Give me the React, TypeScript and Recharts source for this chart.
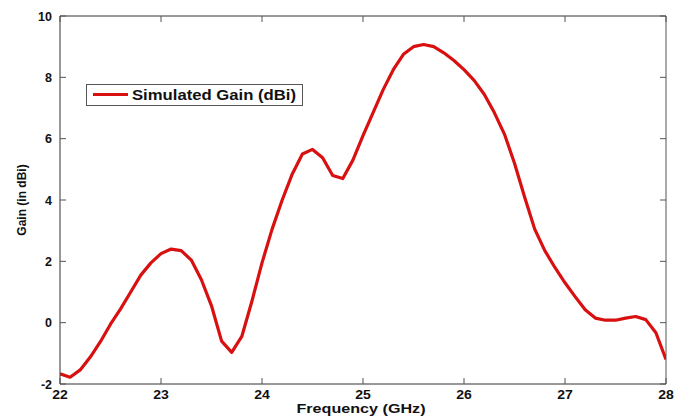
import React from 'react';
import { LineChart, Line, XAxis, YAxis, Legend } from 'recharts';

const freqGHz = [
  22.0, 22.1, 22.2, 22.3, 22.4, 22.5, 22.6, 22.7, 22.8, 22.9,
  23.0, 23.1, 23.2, 23.3, 23.4, 23.5, 23.6, 23.7, 23.8, 23.9,
  24.0, 24.1, 24.2, 24.3, 24.4, 24.5, 24.6, 24.7, 24.8, 24.9,
  25.0, 25.1, 25.2, 25.3, 25.4, 25.5, 25.6, 25.7, 25.8, 25.9,
  26.0, 26.1, 26.2, 26.3, 26.4, 26.5, 26.6, 26.7, 26.8, 26.9,
  27.0, 27.1, 27.2, 27.3, 27.4, 27.5, 27.6, 27.7, 27.8, 27.9, 28.0,
];

const gainDBi = [
  -1.67, -1.78, -1.54, -1.12, -0.62, -0.05, 0.45, 1.0, 1.55, 1.95,
  2.25, 2.4, 2.35, 2.04, 1.4, 0.55, -0.6, -0.97, -0.45, 0.7,
  1.95, 3.05, 4.0, 4.85, 5.5, 5.65, 5.38, 4.8, 4.7, 5.3,
  6.1, 6.85, 7.6, 8.25, 8.75, 9.0, 9.07, 9.0, 8.8, 8.55,
  8.25, 7.9, 7.45, 6.85, 6.15, 5.2, 4.1, 3.05, 2.35, 1.8,
  1.3, 0.85, 0.42, 0.15, 0.08, 0.08, 0.15, 0.2, 0.1, -0.33, -1.2,
];

const xTicks = [22, 23, 24, 25, 26, 27, 28];
const yTicks = [-2, 0, 2, 4, 6, 8, 10];

const seriesName = 'Simulated Gain (dBi)';
const xTitle = 'Frequency (GHz)';
const yTitle = 'Gain (in dBi)';

const data = freqGHz.map((f, i) => ({ f, g: gainDBi[i] }));

const FONT = 'Arial, "Liberation Sans", sans-serif';
const TICK_COLOR = '#555';
const LINE_RED = '#d81010';

const glyphWidth = (s: string, size: number) =>
  s.split('').reduce((w, c) => w + (c === '-' ? 0.333 : 0.556) * size, 0);

const BottomTick = (props: any) => {
  const { x, y, payload } = props;
  const label = String(payload.value);
  return (
    <g>
      <line x1={x} y1={y} x2={x} y2={y - 6} stroke={TICK_COLOR} strokeWidth={1} />
      <text
        x={x}
        y={y + 14.5}
        textAnchor="middle"
        fontFamily={FONT}
        fontWeight="bold"
        fontSize={12}
        fill="#111"
        textLength={glyphWidth(label, 12) * 1.17}
        lengthAdjust="spacingAndGlyphs"
      >
        {label}
      </text>
    </g>
  );
};

const TopTick = (props: any) => {
  const { x, y } = props;
  return <line x1={x} y1={y} x2={x} y2={y + 6} stroke={TICK_COLOR} strokeWidth={1} />;
};

const LeftTick = (props: any) => {
  const { x, y, payload } = props;
  return (
    <g>
      <line x1={x} y1={y} x2={x + 6} y2={y} stroke={TICK_COLOR} strokeWidth={1} />
      <text x={x - 8} y={y} dy="0.36em" textAnchor="end" fontFamily={FONT} fontWeight="bold" fontSize={12.5} fill="#111">
        {payload.value}
      </text>
    </g>
  );
};

const RightTick = (props: any) => {
  const { x, y } = props;
  return <line x1={x} y1={y} x2={x - 6} y2={y} stroke={TICK_COLOR} strokeWidth={1} />;
};

const XTitle = (props: any) => {
  const vb = props.viewBox || { x: 60, y: 384, width: 606, height: 34 };
  return (
    <text
      x={vb.x + vb.width / 2 - 2}
      y={vb.y + 29}
      textAnchor="middle"
      fontFamily={FONT}
      fontWeight="bold"
      fontSize={12.5}
      fill="#111"
      textLength={129}
      lengthAdjust="spacingAndGlyphs"
    >
      {xTitle}
    </text>
  );
};

const YTitle = (props: any) => {
  const vb = props.viewBox || { x: 0, y: 16, width: 60, height: 368 };
  const cx = 22;
  const cy = vb.y + vb.height / 2;
  return (
    <text x={cx} y={cy} dy="0.35em" textAnchor="middle" transform={`rotate(-90 ${cx} ${cy})`} fontFamily={FONT} fontWeight="bold" fontSize={12} fill="#111">
      {yTitle}
    </text>
  );
};

const LegendBox = () => (
  <svg width={217} height={22} style={{ display: 'block' }}>
    <rect x={0.5} y={0.5} width={216} height={21} fill="#fff" stroke="#555" strokeWidth={1} />
    <line x1={7} y1={10.5} x2={42} y2={10.5} stroke={LINE_RED} strokeWidth={3} />
    <text
      x={46}
      y={16}
      fontFamily={FONT}
      fontWeight="bold"
      fontSize={14}
      fill="#111"
      textLength={164}
      lengthAdjust="spacingAndGlyphs"
    >
      {seriesName}
    </text>
  </svg>
);

export default function App() {
  return (
    <div style={{ position: 'absolute', left: 0, top: 0, width: 687, height: 418, background: '#fff' }}>
      <LineChart width={687} height={418} data={data} margin={{ top: 15, right: 20, bottom: 0, left: 0 }}>
        <XAxis
          xAxisId="bottom"
          dataKey="f"
          type="number"
          domain={[22, 28]}
          ticks={xTicks}
          allowDataOverflow
          height={34}
          tickSize={0}
          tickMargin={0}
          tickLine={false}
          axisLine={{ stroke: '#333', strokeWidth: 1 }}
          tick={<BottomTick />}
          interval={0}
          label={<XTitle />}
        />
        <XAxis
          xAxisId="top"
          orientation="top"
          dataKey="f"
          type="number"
          domain={[22, 28]}
          ticks={xTicks}
          allowDataOverflow
          height={1}
          tickSize={0}
          tickMargin={0}
          tickLine={false}
          axisLine={{ stroke: '#333', strokeWidth: 1 }}
          tick={<TopTick />}
          interval={0}
        />
        <YAxis
          yAxisId="left"
          type="number"
          domain={[-2, 10]}
          ticks={yTicks}
          allowDataOverflow
          width={60}
          tickSize={0}
          tickMargin={0}
          tickLine={false}
          axisLine={{ stroke: '#333', strokeWidth: 1 }}
          tick={<LeftTick />}
          interval={0}
          label={<YTitle />}
        />
        <YAxis
          yAxisId="right"
          orientation="right"
          type="number"
          domain={[-2, 10]}
          ticks={yTicks}
          allowDataOverflow
          width={1}
          tickSize={0}
          tickMargin={0}
          tickLine={false}
          axisLine={{ stroke: '#555', strokeWidth: 1 }}
          tick={<RightTick />}
          interval={0}
        />
        <Legend
          layout="horizontal"
          verticalAlign="middle"
          align="center"
          content={<LegendBox />}
          wrapperStyle={{ position: 'absolute', left: 86, top: 84, width: 'auto', height: 'auto' }}
        />
        <Line
          xAxisId="bottom"
          yAxisId="left"
          type="linear"
          dataKey="g"
          name={seriesName}
          stroke={LINE_RED}
          strokeWidth={3.2}
          dot={false}
          activeDot={false}
          isAnimationActive={false}
          strokeLinejoin="round"
        />
      </LineChart>
    </div>
  );
}
